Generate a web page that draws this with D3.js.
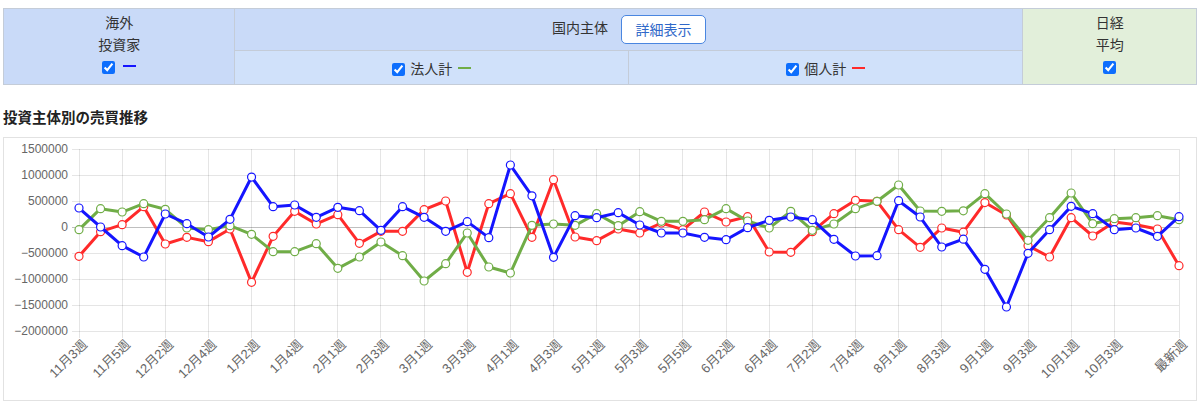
<!DOCTYPE html>
<html>
<head>
<meta charset="utf-8">
<script src="https://cdn.jsdelivr.net/npm/d3@7"></script>
<style>
    body { margin: 0; background: #fff; font-family: "Noto Sans CJK JP", "Noto Sans", sans-serif; color: #333; }
    #panel { position: absolute; left: 3px; top: 8px; width: 1194px; border-collapse: collapse; font-size: 14px; }
    #panel td { border: 1px solid #c4ccd8; text-align: center; padding: 0; line-height: 22px; }
    #panel td.tall { padding-bottom: 5px; }
    #panel .head { background: #c9daf8; }
    #panel .sub { background: #d0e1fa; }
    #panel .nikkei { background: #e2efda; }
    #panel input { width: 13px; height: 13px; margin: 0 5px 0 0; vertical-align: -2px; accent-color: #0d6efd; }
    .dash { display: inline-block; width: 13px; height: 2px; margin-left: 3px; vertical-align: 5px; }
    .btn { display: inline-block; margin-left: 13px; width: 83px; height: 27px; line-height: 27px; border: 1px solid #4a86e0; border-radius: 5px; background: #fff; color: #2f68c9; vertical-align: middle; }
    #title { position: absolute; left: 3px; top: 106px; font-size: 14.5px; font-weight: bold; color: #222; }
    #chart { position: absolute; left: 3px; top: 137px; width: 1192px; height: 262px; border: 1px solid #e2e2e2; }
    #chart text { font-family: "Liberation Sans", "Noto Sans CJK JP", Arial, sans-serif; font-size: 12px; fill: #666; }
    #chart .x-axis text { font-size: 13px; }
</style>
</head>
<body>
<table id="panel">
    <tr style="height:42px">
        <td class="head tall" rowspan="2" style="width:231px">海外<br>投資家<br><input type="checkbox" checked><span class="dash" style="background:#1515ff"></span></td>
        <td class="head" colspan="2">国内主体<span class="btn">詳細表示</span></td>
        <td class="nikkei tall" rowspan="2" style="width:173px">日経<br>平均<br><input type="checkbox" checked style="margin:0"></td>
    </tr>
    <tr style="height:34px">
        <td class="sub" style="width:394px"><input type="checkbox" checked>法人計 <span class="dash" style="background:#70ad47"></span></td>
        <td class="sub" style="width:394px"><input type="checkbox" checked>個人計 <span class="dash" style="background:#ff2a2a"></span></td>
    </tr>
</table>
<div id="title">投資主体別の売買推移</div>
<div id="chart"></div>
<script>
/* DATA */
const weeks = ["11月3週","11月4週","11月5週","12月1週","12月2週","12月3週","12月4週","1月1週","1月2週","1月3週",
    "1月4週","1月5週","2月1週","2月2週","2月3週","2月4週","3月1週","3月2週","3月3週","3月4週",
    "4月1週","4月2週","4月3週","4月4週","5月1週","5月2週","5月3週","5月4週","5月5週","6月1週",
    "6月2週","6月3週","6月4週","7月1週","7月2週","7月3週","7月4週","7月5週","8月1週","8月2週",
    "8月3週","8月4週","9月1週","9月2週","9月3週","9月4週","10月1週","10月2週","10月3週","10月4週",
    "11月1週","最新週"];
const tickWeeks = ["11月3週","11月5週","12月2週","12月4週","1月2週","1月4週","2月1週","2月3週","3月1週","3月3週",
    "4月1週","4月3週","5月1週","5月3週","5月5週","6月2週","6月4週","7月2週","7月4週","8月1週",
    "8月3週","9月1週","9月3週","10月1週","10月3週","最新週"];
const yTicks = [1500000, 1000000, 500000, 0, -500000, -1000000, -1500000, -2000000];

const foreign = [365000, 0, -359000, -577000, 250000, 64000, -192000, 147000, 961000, 391000,
    423000, 186000, 378000, 314000, -64000, 391000, 186000, -83000, 103000, -205000,
    1192000, 600000, -583000, 218000, 179000, 276000, 38000, -115000, -115000, -199000,
    -244000, -13000, 128000, 192000, 141000, -237000, -558000, -551000, 506000, 192000,
    -385000, -234000, -814000, -1538000, -506000, -51000, 397000, 256000, -51000, -19000,
    -179000, 199000];
const corporate = [-51000, 353000, 288000, 449000, 340000, -19000, -51000, 26000, -141000, -474000,
    -474000, -321000, -795000, -577000, -288000, -551000, -1038000, -705000, -115000, -769000,
    -885000, 32000, 58000, 32000, 256000, 26000, 295000, 109000, 109000, 141000,
    353000, 115000, -19000, 301000, -64000, 58000, 353000, 494000, 808000, 308000,
    301000, 311000, 641000, 250000, -256000, 179000, 654000, 64000, 160000, 179000,
    218000, 141000];
const individual = [-564000, -90000, 45000, 391000, -327000, -199000, -282000, -38000, -1064000, -180000,
    301000, 58000, 237000, -314000, -83000, -83000, 333000, 500000, -872000, 449000,
    641000, -199000, 910000, -192000, -263000, -38000, -115000, 77000, -51000, 288000,
    96000, 199000, -481000, -487000, -90000, 256000, 513000, 494000, -51000, -391000,
    -19000, -100000, 470000, 231000, -359000, -577000, 179000, -173000, 96000, 45000,
    -38000, -744000];

/* drawn bottom to top */
const series = [
    {name: "個人計", values: individual, color: "#ff2a2a"},
    {name: "法人計", values: corporate, color: "#70ad47"},
    {name: "海外投資家", values: foreign, color: "#1515ff"}
];

/* DIMENSIONS + SVG */
const width = 1192;
const height = 262;
const margin = {top: 11, left: 75, right: 17, bottom: 69};

const svg = d3.select("#chart")
    .append("svg")
    .attr("width", width)
    .attr("height", height);

/* SCALES */
const xScale = d3.scalePoint()
    .domain(weeks)
    .range([margin.left, width - margin.right]);

const yScale = d3.scaleLinear()
    .domain([-2000000, 1500000])
    .range([height - margin.bottom, margin.top]);

/* GRID */
svg.append("g")
    .selectAll("line")
    .data(yTicks)
    .enter()
    .append("line")
    .attr("x1", margin.left - 7)
    .attr("x2", width - margin.right)
    .attr("y1", d => yScale(d))
    .attr("y2", d => yScale(d))
    .attr("stroke", d => d === 0 ? "rgba(0,0,0,0.25)" : "rgba(0,0,0,0.1)")
    .attr("stroke-width", 1)
    .attr("shape-rendering", "crispEdges");

svg.append("g")
    .selectAll("line")
    .data(tickWeeks)
    .enter()
    .append("line")
    .attr("x1", d => xScale(d))
    .attr("x2", d => xScale(d))
    .attr("y1", margin.top)
    .attr("y2", height - margin.bottom + 7)
    .attr("stroke", "rgba(0,0,0,0.1)")
    .attr("stroke-width", 1)
    .attr("shape-rendering", "crispEdges");

/* AXES */
const yAxis = svg.append("g")
    .attr("transform", `translate(${margin.left},0)`)
    .call(d3.axisLeft(yScale).tickValues(yTicks).tickSize(0).tickPadding(11).tickFormat(d3.format("d")));
yAxis.select(".domain").remove();

const xAxis = svg.append("g")
    .attr("class", "x-axis")
    .attr("transform", `translate(0,${height - margin.bottom})`)
    .call(d3.axisBottom(xScale).tickValues(tickWeeks).tickSize(0));
xAxis.select(".domain").remove();
xAxis.selectAll("text")
    .attr("text-anchor", "end")
    .attr("dy", "0.35em")
    .attr("transform", "translate(3,9) rotate(-45)");

/* LINES + POINTS */
const line = d3.line()
    .x((d, i) => xScale(weeks[i]))
    .y(d => yScale(d));

series.forEach(function(s) {
    svg.append("path")
        .datum(s.values)
        .attr("fill", "none")
        .attr("stroke", s.color)
        .attr("stroke-width", 3)
        .attr("stroke-linejoin", "round")
        .attr("d", line);

    svg.append("g")
        .selectAll("circle")
        .data(s.values)
        .enter()
        .append("circle")
        .attr("cx", (d, i) => xScale(weeks[i]))
        .attr("cy", d => yScale(d))
        .attr("r", 4)
        .attr("fill", "#fff")
        .attr("stroke", s.color)
        .attr("stroke-width", 1.2);
});
</script>
</body>
</html>
